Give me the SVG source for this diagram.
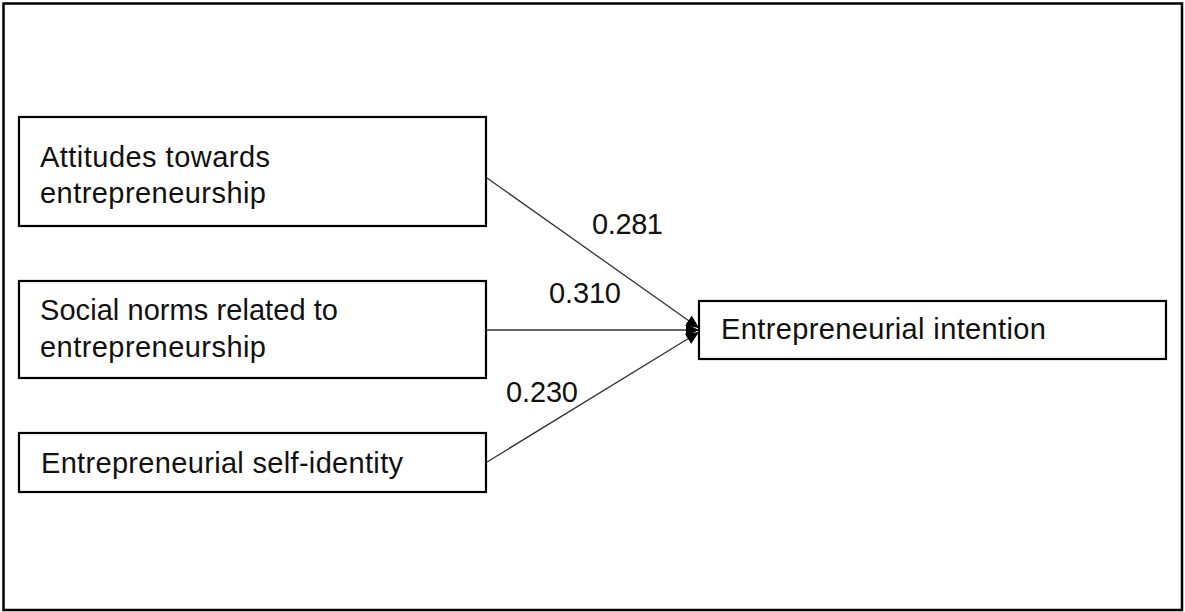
<svg xmlns="http://www.w3.org/2000/svg" width="1185" height="612" viewBox="0 0 1185 612">
<style>
.box{fill:#fff;stroke:#000;stroke-width:2.2}
.t{font-family:"Liberation Sans",Arial,sans-serif;font-size:29px;fill:#111}
.c{stroke:#333;stroke-width:1.3;fill:none}
</style>
<defs>
<marker id="ah" viewBox="0 0 13 12" refX="13" refY="6" markerWidth="13" markerHeight="12" markerUnits="userSpaceOnUse" orient="auto">
<path d="M0,0 L13,6 L0,12 Z" fill="#000"/>
</marker>
</defs>
<rect x="0" y="0" width="1185" height="612" fill="#fff"/>
<rect x="3.5" y="3.5" width="1178.5" height="606.5" fill="none" stroke="#000" stroke-width="2.5"/>
<g id="connectors">
<line class="c" x1="487" y1="178" x2="699" y2="328" marker-end="url(#ah)"/>
<line class="c" x1="487" y1="330" x2="699" y2="330" marker-end="url(#ah)"/>
<line class="c" x1="487" y1="462" x2="699" y2="332" marker-end="url(#ah)"/>
<text class="t" x="592" y="234" textLength="71">0.281</text>
<text class="t" x="549" y="303" textLength="72">0.310</text>
<text class="t" x="506" y="402" textLength="72">0.230</text>
</g>
<g id="attitudes">
<rect class="box" x="19" y="117" width="467" height="109"/>
<text class="t" x="40" y="167" textLength="230">Attitudes towards</text>
<text class="t" x="40" y="203" textLength="226">entrepreneurship</text>
</g>
<g id="social-norms">
<rect class="box" x="19" y="281" width="467" height="97"/>
<text class="t" x="40" y="320" textLength="298">Social norms related to</text>
<text class="t" x="40" y="357" textLength="226">entrepreneurship</text>
</g>
<g id="self-identity">
<rect class="box" x="19" y="433" width="467" height="59"/>
<text class="t" x="41" y="473" textLength="362">Entrepreneurial self-identity</text>
</g>
<g id="intention">
<rect class="box" x="699" y="301" width="467" height="58"/>
<text class="t" x="721" y="339" textLength="325">Entrepreneurial intention</text>
</g>
</svg>
